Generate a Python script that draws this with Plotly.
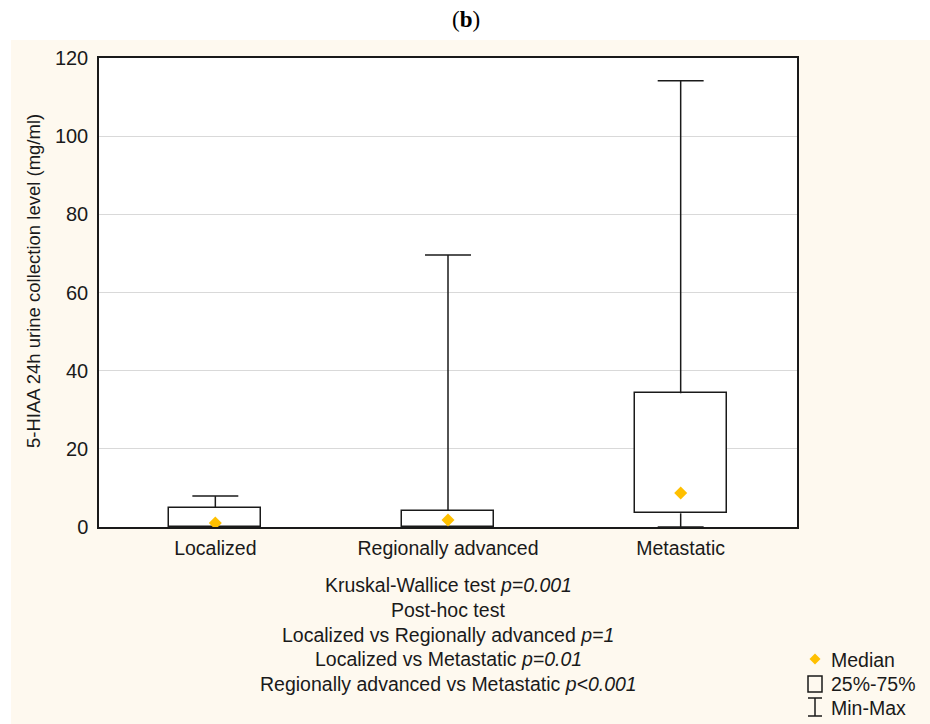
import plotly.graph_objects as go

# Five-number summaries per tumour stage
groups = ["Localized", "Regionally advanced", "Metastatic"]
val_min = [0.0, 0.0, 0.0]
val_q1 = [0.0, 0.0, 3.5]
val_median = [1.0, 1.8, 8.7]
val_q3 = [4.9, 4.1, 34.2]
val_max = [7.9, 69.6, 114.2]

y_ticks = [0, 20, 40, 60, 80, 100, 120]

stats_lines = [
    "Kruskal-Wallice test <i>p=0.001</i>",
    "Post-hoc test",
    "Localized vs Regionally advanced <i>p=1</i>",
    "Localized vs Metastatic <i>p=0.01</i>",
    "Regionally advanced vs Metastatic <i>p<0.001</i>",
]
legend_labels = ["Median", "25%-75%", "Min-Max"]

FONT = "Liberation Sans, Arial, sans-serif"
TXT = "#1a1a1a"
CREAM = "#FEF9EF"
MEDIAN_COLOR = "#FFC000"
FS = 19.5

# plot-area geometry in pixels (used to place paper-referenced decorations)
W, H = 930, 724
L, R, T, B = 99, 797, 58, 527


def px(x):
    return (x - L) / (R - L)


def py(y):
    return (B - y) / (B - T)


xpos = list(range(len(groups)))
box_w = 0.395
cap_half = box_w / 4

fig = go.Figure()

# interquartile boxes
fig.add_trace(go.Bar(
    x=xpos,
    y=[q3 - q1 for q1, q3 in zip(val_q1, val_q3)],
    base=val_q1,
    width=box_w,
    marker=dict(color="white", line=dict(color="#1a1a1a", width=1.5)),
    showlegend=False,
    hoverinfo="skip",
))

# whiskers with end caps
wx, wy = [], []
for i in xpos:
    if val_max[i] > val_q3[i]:
        wx += [i, i, None, i - cap_half, i + cap_half, None]
        wy += [val_q3[i], val_max[i], None, val_max[i], val_max[i], None]
    if val_min[i] < val_q1[i]:
        wx += [i, i, None, i - cap_half, i + cap_half, None]
        wy += [val_q1[i], val_min[i], None, val_min[i], val_min[i], None]
fig.add_trace(go.Scatter(
    x=wx, y=wy, mode="lines",
    line=dict(color="#1a1a1a", width=1.5),
    showlegend=False, hoverinfo="skip",
))

# medians
fig.add_trace(go.Scatter(
    x=xpos, y=val_median, mode="markers",
    marker=dict(symbol="diamond", size=10, color=MEDIAN_COLOR),
    showlegend=False,
))

shapes = [
    # white strips around the cream panel
    dict(type="rect", xref="paper", yref="paper", layer="below",
         x0=px(-10), x1=px(W + 10), y0=py(40), y1=py(-10),
         fillcolor="white", line=dict(width=0)),
    dict(type="rect", xref="paper", yref="paper", layer="below",
         x0=px(-10), x1=px(11), y0=py(H + 10), y1=py(40),
         fillcolor="white", line=dict(width=0)),
]

# legend icons
lx, dh = 815, 5.5
shapes.append(dict(
    type="path", xref="paper", yref="paper",
    path=(f"M {px(lx)},{py(659 - dh)} L {px(lx + dh)},{py(659)} "
          f"L {px(lx)},{py(659 + dh)} L {px(lx - dh)},{py(659)} Z"),
    fillcolor=MEDIAN_COLOR, line=dict(width=0),
))
shapes.append(dict(
    type="rect", xref="paper", yref="paper",
    x0=px(808), x1=px(822), y0=py(692), y1=py(676),
    fillcolor="rgba(0,0,0,0)", line=dict(color="#1a1a1a", width=1.5),
))
for (x0, y0, x1, y1) in [(lx, 698, lx, 716), (808, 698, 822, 698), (808, 716, 822, 716)]:
    shapes.append(dict(
        type="line", xref="paper", yref="paper",
        x0=px(x0), y0=py(y0), x1=px(x1), y1=py(y1),
        line=dict(color="#1a1a1a", width=1.5),
    ))

annotations = [
    dict(text="(<b>b</b>)", xref="paper", yref="paper", x=px(466), y=py(19),
         xanchor="center", yanchor="middle", showarrow=False,
         font=dict(family="Liberation Serif, serif", size=23, color="black")),
    dict(text="5-HIAA 24h urine collection level (mg/ml)", xref="paper", yref="paper",
         x=px(33), y=py(281), xanchor="center", yanchor="middle",
         textangle=-90, showarrow=False,
         font=dict(family=FONT, size=18.5, color=TXT)),
]
line_y = [585, 609.5, 634.5, 659, 683.5]
for txt, yy in zip(stats_lines, line_y):
    annotations.append(dict(text=txt, xref="paper", yref="paper", x=0.5, y=py(yy),
                            xanchor="center", yanchor="middle", showarrow=False,
                            font=dict(family=FONT, size=FS, color=TXT)))
for txt, yy in zip(legend_labels, [660, 684, 708]):
    annotations.append(dict(text=txt, xref="paper", yref="paper", x=px(829), y=py(yy),
                            xanchor="left", yanchor="middle", showarrow=False,
                            font=dict(family=FONT, size=FS, color=TXT)))

fig.update_layout(
    width=W, height=H, autosize=False,
    margin=dict(l=L, r=W - R, t=T, b=H - B, pad=0),
    paper_bgcolor=CREAM,
    plot_bgcolor="white",
    font=dict(family=FONT, size=FS, color=TXT),
    shapes=shapes,
    annotations=annotations,
    bargap=0,
)
fig.update_xaxes(
    range=[-0.5, 2.5], tickvals=xpos, ticktext=groups,
    showgrid=False, zeroline=False, ticks="", ticklabelstandoff=3,
    showline=True, linecolor="#1a1a1a", linewidth=1.5, mirror=True,
    tickfont=dict(family=FONT, size=FS, color=TXT),
)
fig.update_yaxes(
    range=[0, 120], tickvals=y_ticks,
    showgrid=True, gridcolor="#D9D9D9", gridwidth=1, zeroline=False, ticks="",
    ticklabelstandoff=5,
    showline=True, linecolor="#1a1a1a", linewidth=1.5, mirror=True,
    tickfont=dict(family=FONT, size=20, color=TXT),
)

fig.write_html("out.html")
